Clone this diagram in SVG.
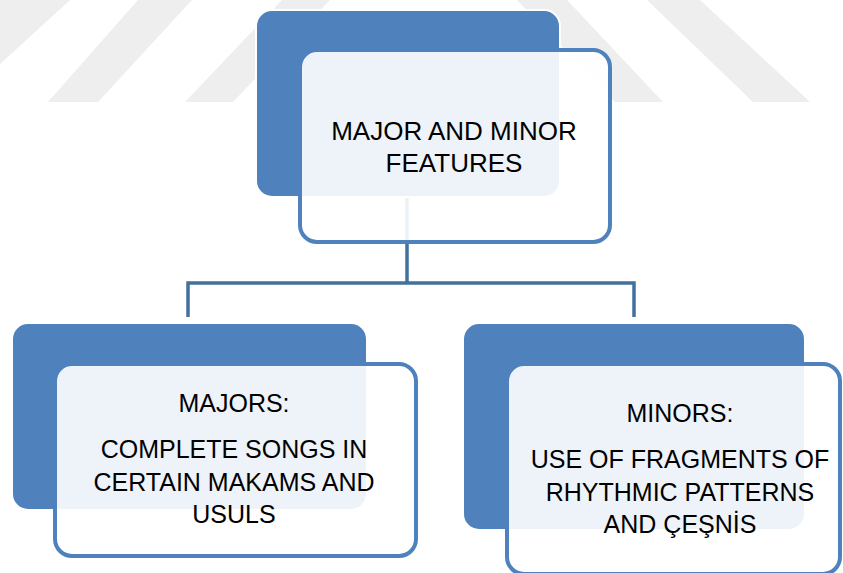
<svg xmlns="http://www.w3.org/2000/svg" width="843" height="573" viewBox="0 0 843 573">
<style>
.wm{fill:#EEEEEE}
.back{fill:#4F81BD;stroke:#FFFFFF;stroke-width:2}
.front{fill:#FFFFFF;fill-opacity:0.9;stroke:#4F81BD;stroke-width:4}
.conn{fill:none;stroke:#41719C;stroke-width:3.5}
text{font-family:"Liberation Sans",Arial,sans-serif;fill:#000000;text-anchor:middle}
.t1{font-size:26px}
.t2{font-size:25px}
</style>
<rect width="843" height="573" fill="#FFFFFF"/>
<g id="watermark">
<polygon class="wm" points="0,0 70,0 0,64"/>
<polygon class="wm" points="48,102 98,102 192,0 138,0"/>
<polygon class="wm" points="185,102 233,102 330,0 282,0"/>
<polygon class="wm" points="517,0 567,0 663,102 615,102"/>
<polygon class="wm" points="647,0 700,0 810,102 753,102"/>
</g>
<g id="connectors">
<path class="conn" d="M407,197 V283 M188,317 V283 H634 V317"/>
</g>
<g id="node-root">
<rect class="back" x="256" y="10" width="304" height="187" rx="16"/>
<rect class="front" x="300" y="50" width="310" height="192" rx="17"/>
<text class="t1" x="454" y="140">MAJOR AND MINOR</text>
<text class="t1" x="454" y="172">FEATURES</text>
</g>
<g id="node-majors">
<rect class="back" x="12" y="323" width="355" height="187" rx="16"/>
<rect class="front" x="55" y="364" width="361" height="192" rx="17"/>
<text class="t2" x="234" y="412">MAJORS:</text>
<text class="t2" x="234" y="458">COMPLETE SONGS IN</text>
<text class="t2" x="234" y="491">CERTAIN MAKAMS AND</text>
<text class="t2" x="234" y="523">USULS</text>
</g>
<g id="node-minors">
<rect class="back" x="463" y="323" width="342" height="207" rx="16"/>
<rect class="front" x="507" y="364" width="333" height="210" rx="17"/>
<text class="t2" x="680" y="422">MINORS:</text>
<text class="t2" x="680" y="468">USE OF FRAGMENTS OF</text>
<text class="t2" x="680" y="501">RHYTHMIC PATTERNS</text>
<text class="t2" x="680" y="533">AND ÇEŞNİS</text>
</g>
</svg>
